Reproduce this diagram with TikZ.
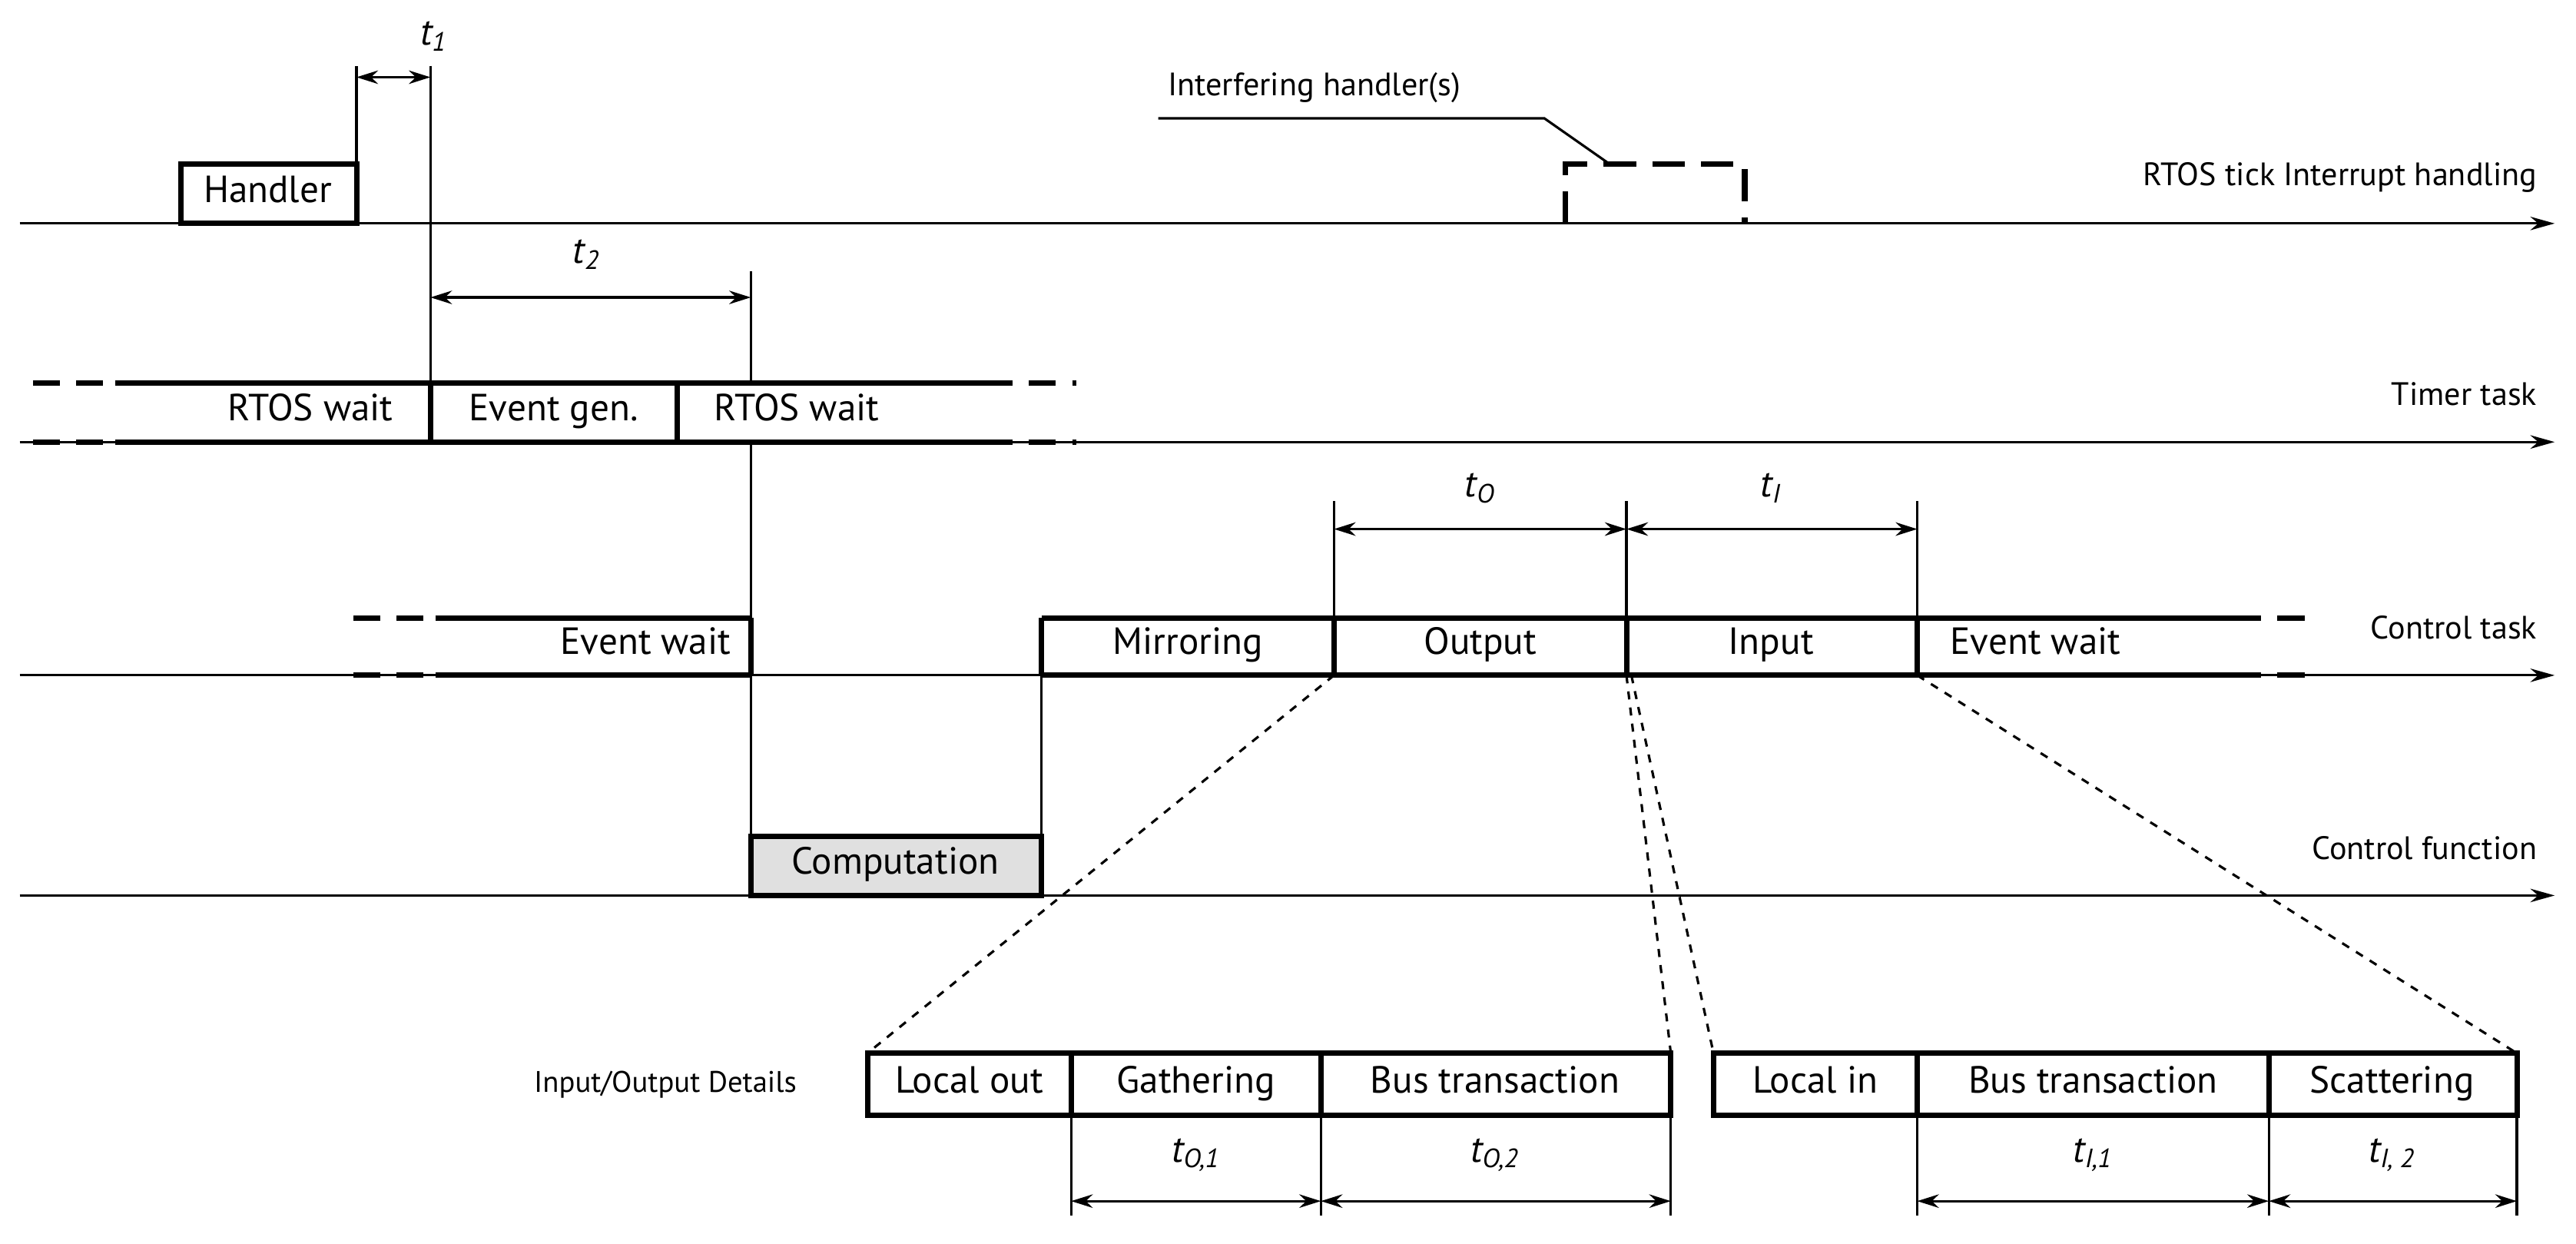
\documentclass[tikz,border=0pt]{standalone}
\usepackage{fontspec}
\setmainfont{PT Sans}
\usetikzlibrary{arrows.meta}
\tikzset{
  axis/.style={-{Stealth[length=9pt,width=5pt]}, line width=0.9pt},
  bx/.style={line width=2pt},
  dim/.style={{Stealth[length=8pt,width=5pt]}-{Stealth[length=8pt,width=5pt]}, line width=0.9pt},
  tick/.style={line width=0.9pt},
  txt/.style={font=\fontsize{14}{16}\selectfont, text height=1.7ex, text depth=0.45ex},
  lab/.style={font=\fontsize{12}{14}\selectfont, anchor=east},
  tl/.style={font=\fontsize{14}{16}\selectfont\itshape}
}
\begin{document}
\begin{tikzpicture}[x=0.02138cm, y=-0.02138cm]
        \useasboundingbox (0,0) rectangle (1568,757);
        % axes
        \coordinate (a1s) at (12,136); \coordinate (a1e) at (1555,136);
        \coordinate (a2s) at (12,269); \coordinate (a2e) at (1555,269);
        \coordinate (a3s) at (12,411); \coordinate (a3e) at (1555,411);
        \coordinate (a4s) at (12,545); \coordinate (a4e) at (1555,545);
        \draw[axis] (a1s) -- (a1e);
        \draw[axis] (a2s) -- (a2e);
        \draw[axis] (a3s) -- (a3e);
        \draw[axis] (a4s) -- (a4e);
        \node[lab] (l1) at (1550,108) {RTOS tick Interrupt handling};
        \node[lab] (l2) at (1550,240) {Timer task};
        \node[lab] (l3) at (1550,382) {Control task};
        \node[lab] (l4) at (1550,516) {Control function};
        % interrupt
        \draw[bx] (110,136) rectangle (217,100);
        \node[txt] (hdl) at (163,118) {Handler};
        \draw[tick] (217,100) -- (217,40);
        \draw[tick] (262,40) -- (262,269);
        \coordinate (t1a) at (217,47); \coordinate (t1b) at (262,47);
        \draw[dim] (t1a) -- (t1b);
        \node[tl] (t1) at (264,22) {t\textsubscript{1}};
        \draw[bx, dashed, dash pattern=on 12pt off 6pt] (953,136) -- (953,100) -- (1062,100) -- (1062,136);
        \node[txt, font=\fontsize{12}{14}\selectfont] (ih) at (800,53) {Interfering handler(s)};
        \draw[tick] (705,72) -- (940,72) -- (980,100);
        % t2
        \coordinate (t2a) at (262,181); \coordinate (t2b) at (457,181);
        \draw[tick] (457,165) -- (457,233);
        \draw[tick] (457,269) -- (457,509);
        \draw[dim] (t2a) -- (t2b);
        \node[tl] (t2) at (357,155) {t\textsubscript{2}};
        % timer task
        \foreach \y in {233,269} {
          \draw[bx, dashed, dash pattern=on 10pt off 6pt] (20,\y) -- (70,\y);
          \draw[bx] (70,\y) -- (600,\y);
          \draw[bx, dashed, dash pattern=on 10pt off 6pt] (600,\y) -- (655,\y);
        }
        \draw[bx] (262,233) -- (262,269);
        \draw[bx] (412,233) -- (412,269);
        \node[txt] (rw1) at (189,251) {RTOS wait};
        \node[txt] (eg) at (337,251) {Event gen.};
        \node[txt] (rw2) at (485,251) {RTOS wait};
        % control task
        \foreach \y in {376,411} {
          \draw[bx, dashed, dash pattern=on 10pt off 6pt] (215,\y) -- (265,\y);
          \draw[bx] (265,\y) -- (457,\y);
          \draw[bx] (634,\y) -- (1360,\y);
          \draw[bx, dashed, dash pattern=on 10pt off 6pt] (1360,\y) -- (1410,\y);
        }
        \foreach \x in {457,634,812,990,1167} \draw[bx] (\x,376) -- (\x,411);
        \node[txt] (ew1) at (393,393) {Event wait};
        \node[txt] (mir) at (723,393) {Mirroring};
        \node[txt] (out) at (901,393) {Output};
        \node[txt] (inp) at (1078,393) {Input};
        \node[txt] (ew2) at (1239,393) {Event wait};
        \draw[tick] (634,411) -- (634,509);
        \foreach \x in {812,990,1167} \draw[tick] (\x,305) -- (\x,376);
        \coordinate (toa) at (812,322); \coordinate (tob) at (990,322);
        \coordinate (tib) at (1167,322);
        \draw[dim] (toa) -- (tob);
        \draw[dim] (tob) -- (tib);
        \node[tl] (tO) at (901,297) {t\textsubscript{O}};
        \node[tl] (tI) at (1078,297) {t\textsubscript{I}};
        % control function
        \draw[bx, fill=black!12] (457,509) rectangle (634,545);
        \node[txt] (comp) at (545,527) {Computation};
        % details
        \draw[tick, dashed] (812,411) -- (528,641);
        \draw[tick, dashed] (990,411) -- (1017,641);
        \draw[tick, dashed] (993,411) -- (1043,641);
        \draw[tick, dashed] (1167,411) -- (1532,641);
        \node[font=\fontsize{11}{13}\selectfont] (iod) at (405,660) {Input/Output Details};
        \draw[bx] (528,641) rectangle (1017,679);
        \draw[bx] (652,641) -- (652,679);
        \draw[bx] (804,641) -- (804,679);
        \draw[bx] (1043,641) rectangle (1532,679);
        \draw[bx] (1167,641) -- (1167,679);
        \draw[bx] (1381,641) -- (1381,679);
        \node[txt] (lo) at (590,660) {Local out};
        \node[txt] (ga) at (728,660) {Gathering};
        \node[txt] (bt1) at (910,660) {Bus transaction};
        \node[txt] (li) at (1105,660) {Local in};
        \node[txt] (bt2) at (1274,660) {Bus transaction};
        \node[txt] (sc) at (1456,660) {Scattering};
        \foreach \x in {652,804,1017,1167,1381,1532} \draw[tick] (\x,679) -- (\x,740);
        \coordinate (d1) at (652,731); \coordinate (d2) at (804,731); \coordinate (d3) at (1017,731);
        \coordinate (d4) at (1167,731); \coordinate (d5) at (1381,731); \coordinate (d6) at (1532,731);
        \draw[dim] (d1) -- (d2);
        \draw[dim] (d2) -- (d3);
        \draw[dim] (d4) -- (d5);
        \draw[dim] (d5) -- (d6);
        \node[tl] (to1) at (728,703) {t\textsubscript{O,1}};
        \node[tl] (to2) at (910,703) {t\textsubscript{O,2}};
        \node[tl] (ti1) at (1274,703) {t\textsubscript{I,1}};
        \node[tl] (ti2) at (1456,703) {t\textsubscript{I, 2}};
\end{tikzpicture}
\end{document}
